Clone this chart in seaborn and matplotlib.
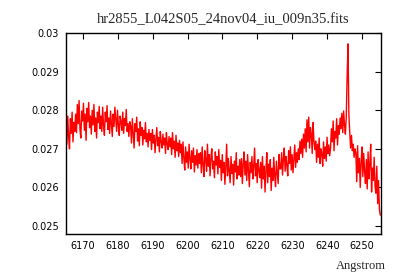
import numpy as np
import pandas as pd
import seaborn as sns
from matplotlib import pyplot as plt
from matplotlib.ticker import FuncFormatter

title = "hr2855_L042S05_24nov04_iu_009n35.fits"

# wavelength grid of the spectrum (start, step in Angstrom)
lam_start = 6165.2
lam_step = 0.25

# flux in units of 1e-5
flux_e5 = [
    2760, 2712, 2785, 2730, 2700, 2778, 2740, 2795, 2718, 2768, 2745,
    2790, 2742, 2815, 2765, 2825, 2750, 2728, 2798, 2772, 2818, 2748, 2790, 2722, 2805, 2770,
    2820, 2755, 2785, 2738, 2800, 2762, 2815, 2745, 2780, 2728, 2795, 2768, 2810, 2752,
    2785, 2745, 2808, 2760, 2735, 2795, 2770, 2812, 2750, 2780, 2740, 2798, 2765, 2732, 2790,
    2758, 2808, 2775, 2745, 2800, 2762, 2735, 2785, 2770, 2748, 2795, 2740, 2778, 2760, 2802,
    2745, 2765, 2732, 2770,
    2760, 2715, 2778, 2738, 2702, 2765, 2745, 2782, 2720, 2752, 2708, 2770, 2735, 2755, 2710,
    2748, 2726, 2768, 2718, 2740, 2705, 2750, 2722,
    2740, 2698, 2750, 2715, 2735, 2690, 2725, 2755, 2708, 2730, 2692, 2745, 2718, 2702, 2738,
    2710, 2728, 2688, 2742, 2712, 2698, 2732, 2705,
    2728, 2685, 2742, 2700, 2720, 2678, 2735, 2695, 2715, 2680, 2722, 2690,
    2712, 2662, 2718, 2675, 2645, 2705, 2665, 2692, 2650, 2712, 2675, 2648, 2695, 2665, 2702,
    2640, 2682, 2658, 2698, 2650, 2688, 2662,
    2690, 2638, 2705, 2658, 2628, 2695, 2672, 2642, 2712, 2655, 2685, 2630, 2678, 2700, 2648,
    2668, 2625, 2692, 2658, 2680, 2635, 2698, 2652,
    2670, 2618, 2685, 2638, 2665, 2608, 2652, 2712, 2630, 2675, 2645, 2612, 2680, 2636, 2660,
    2606, 2668, 2640, 2690, 2622, 2655, 2632, 2672,
    2628, 2675, 2610, 2660, 2692, 2632, 2668, 2618, 2685, 2645, 2602, 2665, 2638, 2680, 2622,
    2655, 2702, 2630, 2662, 2612, 2672, 2645, 2625,
    2665, 2598, 2680, 2622, 2655, 2588, 2645, 2690, 2612, 2660, 2628, 2672, 2592, 2650, 2618,
    2678, 2632, 2602, 2668, 2638, 2610, 2685, 2648,
    2648, 2690, 2632, 2675, 2702, 2642, 2680, 2658, 2630, 2695, 2662, 2705, 2645, 2685, 2638,
    2672, 2710, 2652, 2690, 2665, 2700, 2672, 2720,
    2688, 2725, 2678, 2738, 2702,
    2752, 2692, 2775, 2718, 2782, 2702, 2755, 2738, 2688, 2768, 2722, 2698,
    2720, 2665, 2712, 2678, 2728, 2662, 2700, 2688, 2655, 2718, 2675, 2705, 2668, 2730, 2688,
    2710, 2682,
    2702, 2752, 2718, 2772, 2695, 2745, 2728, 2778, 2710, 2760, 2738, 2780,
    2752, 2792, 2742, 2798, 2762, 2738, 2782,
    2886, 2972, 2790,
    2742, 2702, 2735, 2695, 2712, 2678, 2700,
    2690, 2615, 2708, 2638, 2675, 2600, 2665, 2705, 2628, 2688, 2642, 2610,
    2672, 2596, 2692, 2622, 2660, 2712, 2588, 2650, 2618, 2678, 2602,
    2585, 2655, 2558, 2618, 2542, 2528,
]

flux = np.array(flux_e5) * 1e-5
lam = lam_start + lam_step * np.arange(len(flux))
df = pd.DataFrame({"Angstrom": lam, "flux": flux})

sns.set_style("white")
plt.rcParams["font.family"] = ["DejaVu Sans"]

fig = plt.figure(figsize=(4, 2.8), dpi=100)
ax = fig.add_axes([0.165, 0.1643, 0.7875, 0.7177])

sns.lineplot(data=df, x="Angstrom", y="flux", ax=ax, color="#ff0000",
             linewidth=1.0, estimator=None, sort=False)

ax.set_xlim(6165.2, 6255.4)
ax.set_ylim(0.024793, 0.0300)
ax.set_xticks(np.arange(6170, 6251, 10))
ax.set_yticks([0.025, 0.026, 0.027, 0.028, 0.029, 0.030])
ax.yaxis.set_major_formatter(FuncFormatter(lambda v, p: "%g" % round(v, 4)))

ax.tick_params(direction="in", length=4, width=0.8, labelsize=7, colors="black",
               top=True, right=True, pad=5)
for s in ax.spines.values():
    s.set_color("black")
    s.set_linewidth(1)

ax.set_xlabel("")
ax.set_ylabel("")
ax.set_title(title, family="Liberation Serif", fontsize=10.5, pad=7)
fig.text(0.965, 0.03, "Angstrom", family="Liberation Serif", fontsize=9,
         ha="right", va="bottom")

fig.savefig("out.png", dpi=100)
